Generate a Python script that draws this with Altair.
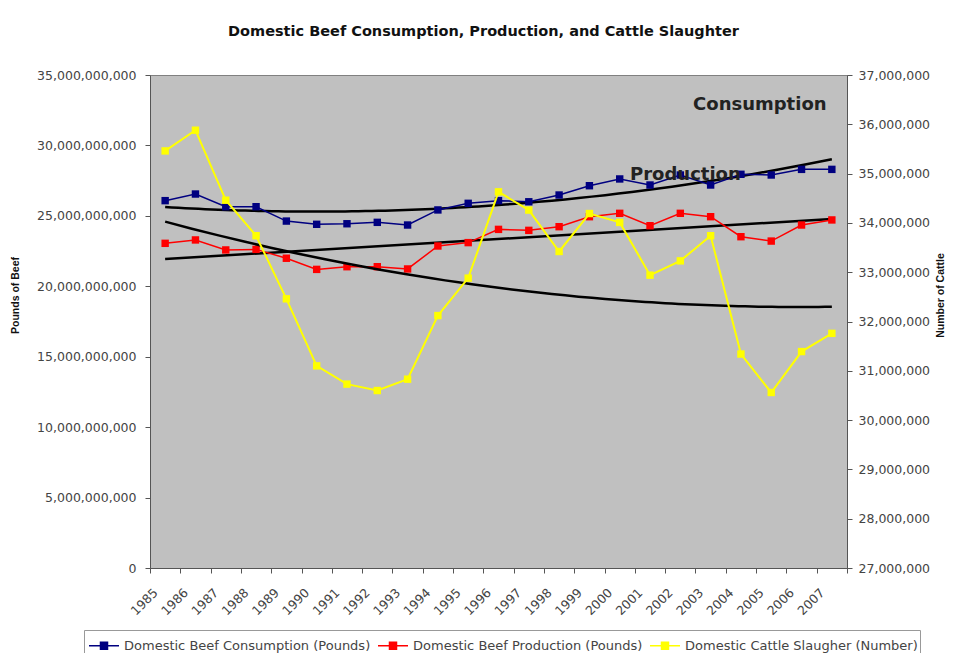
import altair as alt
import pandas as pd

years = list(range(1985, 2008))
consumption = [26.08e9, 26.55e9, 25.65e9, 25.65e9, 24.63e9, 24.40e9, 24.44e9, 24.54e9,
               24.35e9, 25.42e9, 25.89e9, 26.08e9, 26.00e9, 26.48e9, 27.14e9, 27.62e9,
               27.19e9, 27.90e9, 27.19e9, 27.95e9, 27.90e9, 28.30e9, 28.30e9]
production = [23.05e9, 23.29e9, 22.58e9, 22.62e9, 21.99e9, 21.20e9, 21.39e9, 21.39e9,
              21.23e9, 22.86e9, 23.10e9, 24.04e9, 23.97e9, 24.23e9, 24.94e9, 25.18e9,
              24.30e9, 25.18e9, 24.94e9, 23.52e9, 23.21e9, 24.35e9, 24.71e9]
slaughter = [35.46e6, 35.88e6, 34.46e6, 33.74e6, 32.46e6, 31.10e6, 30.73e6, 30.60e6,
             30.83e6, 32.12e6, 32.88e6, 34.63e6, 34.26e6, 33.42e6, 34.19e6, 34.01e6,
             32.94e6, 33.23e6, 33.74e6, 31.34e6, 30.56e6, 31.39e6, 31.76e6]

series_names = ["Domestic Beef Consumption (Pounds)",
                "Domestic Beef Production (Pounds)",
                "Domestic Cattle Slaugher (Number)"]
series_colors = ["#000080", "#ff0000", "#ffff00"]

left_ticks = [0, 5e9, 10e9, 15e9, 20e9, 25e9, 30e9, 35e9]
right_ticks = [27e6, 28e6, 29e6, 30e6, 31e6, 32e6, 33e6, 34e6, 35e6, 36e6, 37e6]

annot_labels = ["Consumption", "Production"]
annot_year = [2002.42, 2000.34]
annot_value = [32.52e9, 27.55e9]

df = pd.DataFrame({"year": years, "consumption": consumption,
                   "production": production, "slaughter": slaughter})
annot = pd.DataFrame({"label": annot_labels, "year": annot_year, "value": annot_value})

x_bounds = [y - 0.5 for y in years] + [years[-1] + 0.5]
xscale = alt.Scale(domain=[years[0] - 0.5, years[-1] + 0.5], nice=False, zero=False)
xaxis = alt.Axis(values=x_bounds, title=None, labelAngle=315, labelOverlap=False,
                 labelFlush=False, labelOffset=1, labelPadding=13, grid=False,
                 labelExpr="datum.value < 2007 ? format(datum.value + 0.5, 'd') : ''")
X = alt.X("year:Q", scale=xscale, axis=xaxis)

yL_scale = alt.Scale(domain=[0, 35e9], nice=False, zero=False)
yL_axis = alt.Axis(values=left_ticks, format=",.0f", title="Pounds of Beef", orient="left",
                   labelPadding=9, titleX=-130, titleY=220, titleFont="Liberation Sans",
                   titleFontSize=10.5, titleFontWeight="bold", titleColor="#111", grid=False)
yR_scale = alt.Scale(domain=[27e6, 37e6], nice=False, zero=False)
yR_axis = alt.Axis(values=right_ticks, format=",.0f", title="Number of Cattle", orient="right",
                   labelPadding=6, titleX=98, titleY=220, titleAngle=270,
                   titleFont="Liberation Sans", titleFontSize=10.5, titleFontWeight="bold",
                   titleColor="#111", grid=False)

sym_path = "M-0.84,0L1.56,0M0.08,-0.28L0.64,-0.28L0.64,0.28L0.08,0.28Z"
legend = alt.Legend(title=None, orient="none", legendX=-66, legendY=555,
                    direction="horizontal", symbolType=sym_path, symbolSize=625,
                    symbolStrokeWidth=1.5, labelFont="DejaVu Sans", labelFontSize=13,
                    labelColor="#444", labelLimit=400, strokeColor="#999", fillColor="white",
                    padding=2, columnPadding=4, labelOffset=11)
color_scale = alt.Scale(domain=series_names, range=series_colors)
COLOR = alt.Color("series:N", scale=color_scale, legend=legend)

base = alt.Chart(df)
pt = alt.OverlayMarkDef(shape="square", filled=True, size=55, opacity=1)

trend_c = base.transform_regression("year", "consumption", method="poly", order=2).mark_line(
    color="black", strokeWidth=2.5).encode(x=X, y=alt.Y("consumption:Q", scale=yL_scale, axis=yL_axis))
trend_p = base.transform_regression("year", "production", method="linear").mark_line(
    color="black", strokeWidth=2.5).encode(x=X, y=alt.Y("production:Q", scale=yL_scale, axis=yL_axis))
line_c = base.transform_calculate(series=f"'{series_names[0]}'").mark_line(
    strokeWidth=1.5, point=pt).encode(
    x=X, y=alt.Y("consumption:Q", scale=yL_scale, axis=yL_axis), color=COLOR)
line_p = base.transform_calculate(series=f"'{series_names[1]}'").mark_line(
    strokeWidth=1.5, point=pt).encode(
    x=X, y=alt.Y("production:Q", scale=yL_scale, axis=yL_axis), color=COLOR)
texts = alt.Chart(annot).mark_text(align="left", baseline="alphabetic", font="DejaVu Sans",
                                   fontWeight="bold", fontSize=18, color="#222").encode(
    x=X, y=alt.Y("value:Q", scale=yL_scale, axis=yL_axis), text="label:N")

left = alt.layer(trend_c, trend_p, line_c, line_p, texts)

trend_s = base.transform_regression("year", "slaughter", method="poly", order=2).mark_line(
    color="black", strokeWidth=2.5).encode(x=X, y=alt.Y("slaughter:Q", scale=yR_scale, axis=yR_axis))
line_s = base.transform_calculate(series=f"'{series_names[2]}'").mark_line(
    strokeWidth=2, point=pt).encode(
    x=X, y=alt.Y("slaughter:Q", scale=yR_scale, axis=yR_axis), color=COLOR)
right = alt.layer(trend_s, line_s)

chart = alt.layer(left, right).resolve_scale(y="independent").properties(
    width=697, height=493,
    title=alt.Title("Domestic Beef Consumption, Production, and Cattle Slaughter",
                    font="DejaVu Sans", fontSize=14.5, fontWeight="bold", anchor="middle",
                    dx=-15, offset=30, color="#111"),
    autosize=alt.AutoSizeParams(type="none"),
    padding={"left": 142, "top": 67, "right": 102, "bottom": 85},
).configure_view(fill="#c0c0c0", stroke="#808080", strokeWidth=1).configure_axis(
    domainColor="#555", tickColor="#555", tickSize=5, labelFont="DejaVu Sans",
    labelFontSize=12.5, labelColor="#444")

chart.save("out.html", embed_options={"renderer": "svg", "actions": False})
